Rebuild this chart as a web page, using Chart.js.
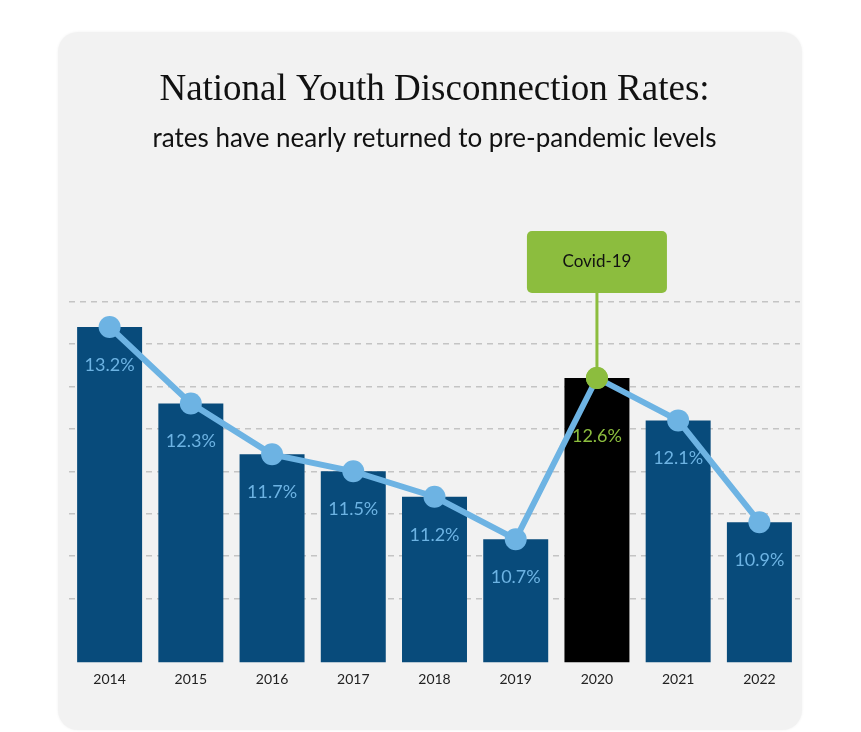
<!DOCTYPE html>
<html>
<head>
<meta charset="utf-8">
<script src="https://cdn.jsdelivr.net/npm/chart.js@4"></script>
<style>
  body { margin: 0; background: #fff; }
  .card {
    position: absolute; left: 58px; top: 32px; width: 744px; height: 698px;
    background: #f2f2f2; border-radius: 20px;
    box-shadow: 0 0 3px rgba(0,0,0,0.06);
  }
  canvas { display: block; }
</style>
</head>
<body>
<div class="card"><canvas id="myChart" width="744" height="698"></canvas></div>
<script>
var years = ['2014', '2015', '2016', '2017', '2018', '2019', '2020', '2021', '2022'];
var rates = [13.2, 12.3, 11.7, 11.5, 11.2, 10.7, 12.6, 12.1, 10.9];
var covidIndex = 6;

var navy = '#084b7b';
var lightBlue = '#6db3e3';
var green = '#8cbd3e';

// value labels inside the bars + the Covid-19 callout
var overlays = {
    id: 'overlays',
    afterDatasetsDraw: function (chart) {
        var ctx = chart.ctx;
        var bars = chart.getDatasetMeta(1).data;
        var pts = chart.getDatasetMeta(0).data;
        ctx.save();
        ctx.textAlign = 'center';
        ctx.textBaseline = 'middle';
        ctx.font = '18px Lato';
        bars.forEach(function (bar, i) {
            var off = i === covidIndex ? 58 : 38;
            ctx.fillStyle = i === covidIndex ? green : lightBlue;
            ctx.fillText(rates[i].toFixed(1) + '%', bar.x, bar.y + off);
        });

        // callout
        var p = pts[covidIndex];
        var boxW = 140, boxH = 62;
        var boxBottom = p.y - 85;
        var bx = p.x - boxW / 2, by = boxBottom - boxH;
        ctx.strokeStyle = green;
        ctx.lineWidth = 3;
        ctx.beginPath();
        ctx.moveTo(p.x, boxBottom);
        ctx.lineTo(p.x, p.y);
        ctx.stroke();
        ctx.fillStyle = green;
        ctx.beginPath();
        ctx.roundRect(bx, by, boxW, boxH, 5);
        ctx.fill();
        ctx.fillStyle = '#111';
        ctx.font = '17px Lato';
        ctx.fillText('Covid-19', p.x, by + boxH / 2);
        ctx.fillStyle = green;
        ctx.beginPath();
        ctx.arc(p.x, p.y, 11, 0, Math.PI * 2);
        ctx.fill();
        ctx.restore();
    }
};

var ctx = document.getElementById('myChart').getContext('2d');
new Chart(ctx, {
    data: {
        labels: years,
        datasets: [{
            type: 'line',
            data: rates,
            order: 0,
            borderColor: lightBlue,
            borderWidth: 6,
            pointRadius: 11,
            pointBackgroundColor: years.map(function (y, i) { return i === covidIndex ? green : lightBlue; }),
            pointBorderWidth: 0,
            tension: 0
        }, {
            type: 'bar',
            data: rates,
            order: 1,
            backgroundColor: years.map(function (y, i) { return i === covidIndex ? '#000000' : navy; }),
            barPercentage: 0.8,
            categoryPercentage: 1.0
        }]
    },
    options: {
        responsive: false,
        animation: false,
        layout: { autoPadding: false, padding: { left: 11, right: 2, top: 0, bottom: 41 } },
        plugins: {
            legend: { display: false },
            tooltip: { enabled: false },
            title: {
                display: true,
                text: 'National Youth Disconnection Rates:',
                color: '#111',
                font: { family: 'Liberation Serif', size: 37, weight: 'normal' },
                padding: { top: 36, bottom: 11 }
            },
            subtitle: {
                display: true,
                text: 'rates have nearly returned to pre-pandemic levels',
                color: '#111',
                font: { family: 'Lato', size: 26 },
                padding: { bottom: 147 }
            }
        },
        scales: {
            x: {
                grid: { display: false },
                border: { display: false },
                ticks: { color: '#222', font: { family: 'Lato', size: 14 }, padding: 1 }
            },
            y: {
                min: 9.25,
                max: 13.5,
                afterBuildTicks: function (scale) {
                    scale.ticks = scale.ticks.filter(function (t) { return t.value >= 10; });
                },
                ticks: { display: false, stepSize: 0.5 },
                border: { display: false, dash: [6, 5] },
                grid: { color: '#c4c4c4', lineWidth: 1.5, drawTicks: false }
            }
        }
    },
    plugins: [overlays]
});
</script>
</body>
</html>
